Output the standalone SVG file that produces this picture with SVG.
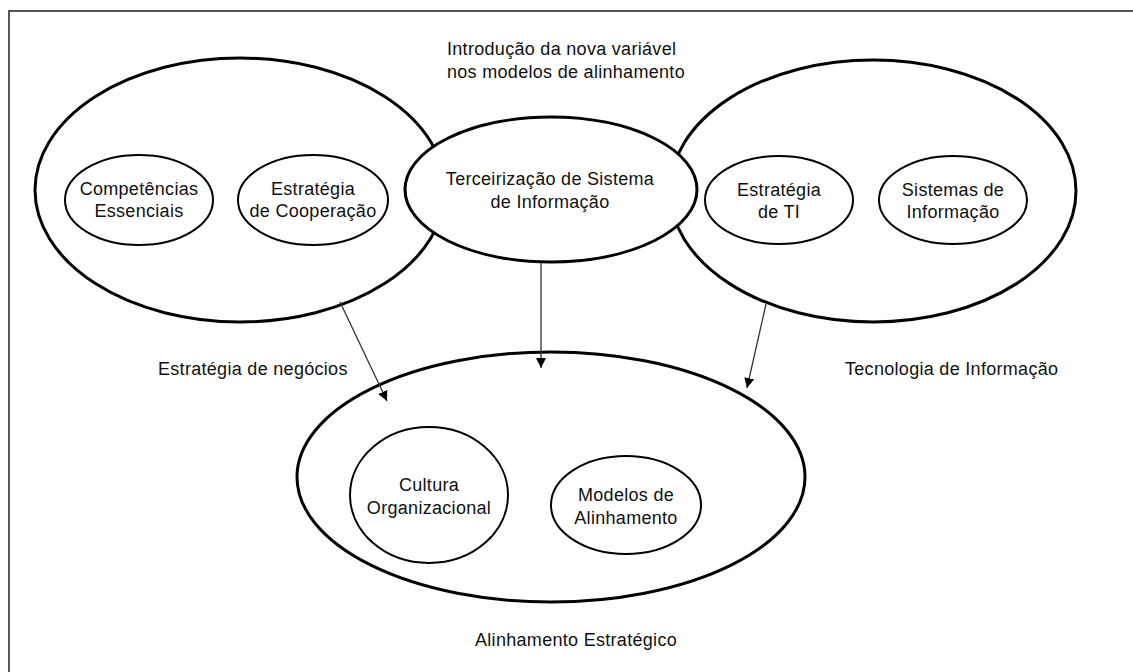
<svg xmlns="http://www.w3.org/2000/svg" width="1133" height="672" viewBox="0 0 1133 672">
<defs>
<style>
.big{fill:#fff;stroke:#000;stroke-width:3}
.mid{fill:#fff;stroke:#000;stroke-width:3}
.inner{fill:#fff;stroke:#000;stroke-width:2}
.t{font-family:"Liberation Sans",Arial,sans-serif;font-size:18px;fill:#111;letter-spacing:0.3px}
.c{text-anchor:middle}
.conn{stroke:#333;stroke-width:1.3;fill:none;marker-end:url(#ah)}
.frame{stroke:#555;stroke-width:2;fill:none}
</style>
<marker id="ah" viewBox="0 0 10 10" refX="10" refY="5" markerWidth="10" markerHeight="10" markerUnits="userSpaceOnUse" orient="auto">
<path d="M0,0 L10,5 L0,10 z" fill="#000"/>
</marker>
</defs>
<rect width="1133" height="672" fill="#fff"/>
<path class="frame" d="M9,672 L9,11 L1133,11"/>

<g id="negocios">
<ellipse class="big" cx="240" cy="190" rx="205" ry="132"/>
</g>
<g id="ti">
<ellipse class="big" cx="873" cy="191" rx="203" ry="131"/>
</g>
<g id="competencias">
<ellipse class="inner" cx="139" cy="200" rx="74" ry="45"/>
<text class="t c" x="139" y="195">Competências</text>
<text class="t c" x="139" y="217">Essenciais</text>
</g>
<g id="cooperacao">
<ellipse class="inner" cx="313" cy="200" rx="75" ry="45"/>
<text class="t c" x="313" y="195">Estratégia</text>
<text class="t c" x="313" y="217">de Cooperação</text>
</g>
<g id="estrategia-ti">
<ellipse class="inner" cx="779" cy="200" rx="74" ry="44"/>
<text class="t c" x="779" y="196">Estratégia</text>
<text class="t c" x="779" y="218">de TI</text>
</g>
<g id="sistemas">
<ellipse class="inner" cx="953" cy="200" rx="74" ry="44"/>
<text class="t c" x="953" y="196">Sistemas de</text>
<text class="t c" x="953" y="218">Informação</text>
</g>
<g id="terceirizacao">
<ellipse class="mid" cx="551" cy="189.5" rx="146" ry="72.5"/>
<text class="t c" x="550" y="185">Terceirização de Sistema</text>
<text class="t c" x="550" y="208">de Informação</text>
</g>
<g id="alinhamento">
<ellipse class="big" cx="551" cy="477" rx="254" ry="125"/>
</g>
<g id="cultura">
<ellipse class="inner" cx="429" cy="495" rx="79" ry="68"/>
<text class="t c" x="429" y="491">Cultura</text>
<text class="t c" x="429" y="514">Organizacional</text>
</g>
<g id="modelos">
<ellipse class="inner" cx="626" cy="505" rx="75" ry="49"/>
<text class="t c" x="626" y="501">Modelos de</text>
<text class="t c" x="626" y="524">Alinhamento</text>
</g>

<g id="labels">
<text class="t" x="447" y="55">Introdução da nova variável</text>
<text class="t" x="447" y="78">nos modelos de alinhamento</text>
<text class="t" x="158" y="375">Estratégia de negócios</text>
<text class="t" x="845" y="375">Tecnologia de Informação</text>
<text class="t" x="475" y="646">Alinhamento Estratégico</text>
</g>

<g id="connectors">
<line class="conn" x1="340" y1="302" x2="387" y2="401"/>
<line class="conn" x1="541" y1="263" x2="541" y2="368"/>
<line class="conn" x1="766" y1="304" x2="747" y2="388"/>
</g>
</svg>
